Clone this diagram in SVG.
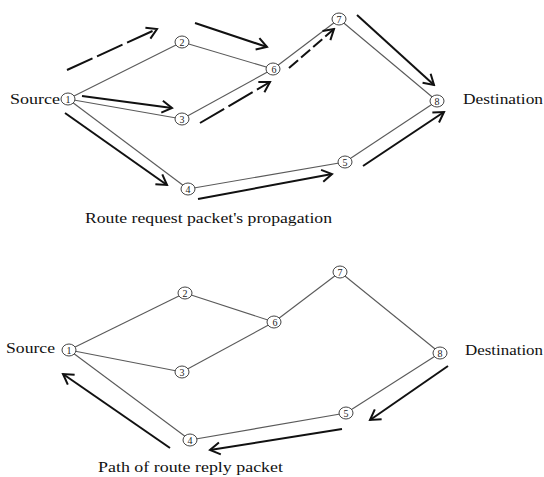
<svg xmlns="http://www.w3.org/2000/svg" width="544" height="477" viewBox="0 0 544 477">
<style>
.edge{stroke:#5a5a5a;stroke-width:1.1;fill:none}
.arr{stroke:#111;stroke-width:2;fill:none;marker-end:url(#head)}
.dash{stroke-dasharray:28 5}
.dash2{stroke-dasharray:12 4}
.node ellipse{fill:#fff;stroke:#444;stroke-width:1}
.num{font-family:"Liberation Serif",serif;font-size:10px;fill:#222;text-anchor:middle}
.lbl{font-family:"Liberation Serif",serif;font-size:15px;fill:#111}
</style>
<defs>
<marker id="head" viewBox="-12 -8 14 16" refX="0" refY="0" markerWidth="14" markerHeight="16" markerUnits="userSpaceOnUse" orient="auto">
<path d="M-10,-6 L0,0 L-10,6" fill="none" stroke="#111" stroke-width="2"/>
</marker>
</defs>
<rect width="544" height="477" fill="#fff"/>
<g id="connectors">
<line class="edge" x1="68" y1="99" x2="182" y2="42"/>
<line class="edge" x1="182" y1="42" x2="273" y2="69"/>
<line class="edge" x1="68" y1="99" x2="182" y2="119"/>
<line class="edge" x1="182" y1="119" x2="273" y2="69"/>
<line class="edge" x1="68" y1="99" x2="188" y2="189"/>
<line class="edge" x1="188" y1="189" x2="345" y2="162"/>
<line class="edge" x1="345" y1="162" x2="437" y2="101"/>
<line class="edge" x1="273" y1="69" x2="339" y2="19"/>
<line class="edge" x1="339" y1="19" x2="437" y2="101"/>
<line class="arr dash" x1="67" y1="70" x2="157" y2="29"/>
<line class="arr" x1="195" y1="23" x2="267" y2="47"/>
<line class="arr" x1="82" y1="96" x2="172" y2="108"/>
<line class="arr dash" x1="200" y1="123" x2="270" y2="82"/>
<line class="arr" x1="65" y1="113" x2="167" y2="185"/>
<line class="arr" x1="198" y1="199" x2="332" y2="174"/>
<line class="arr" x1="363" y1="166" x2="444" y2="112"/>
<line class="arr dash2" x1="289" y1="68" x2="334" y2="29"/>
<line class="arr" x1="357" y1="15" x2="434" y2="85"/>
<line class="edge" x1="69" y1="350" x2="185" y2="293"/>
<line class="edge" x1="185" y1="293" x2="274" y2="322"/>
<line class="edge" x1="69" y1="350" x2="182" y2="372"/>
<line class="edge" x1="182" y1="372" x2="274" y2="322"/>
<line class="edge" x1="69" y1="350" x2="190" y2="440"/>
<line class="edge" x1="190" y1="440" x2="346" y2="413"/>
<line class="edge" x1="346" y1="413" x2="440" y2="353"/>
<line class="edge" x1="274" y1="322" x2="340" y2="272"/>
<line class="edge" x1="340" y1="272" x2="440" y2="353"/>
<line class="arr" x1="448" y1="366" x2="370" y2="420"/>
<line class="arr" x1="342" y1="429" x2="210" y2="450"/>
<line class="arr" x1="170" y1="448" x2="63" y2="374"/>
</g>
<g id="top-n1" class="node"><ellipse cx="68" cy="99" rx="7" ry="6"/><text class="num" x="68" y="102.5">1</text></g>
<g id="top-n2" class="node"><ellipse cx="182" cy="42" rx="7" ry="6"/><text class="num" x="182" y="45.5">2</text></g>
<g id="top-n3" class="node"><ellipse cx="182" cy="119" rx="7" ry="6"/><text class="num" x="182" y="122.5">3</text></g>
<g id="top-n4" class="node"><ellipse cx="188" cy="189" rx="7" ry="6"/><text class="num" x="188" y="192.5">4</text></g>
<g id="top-n5" class="node"><ellipse cx="345" cy="162" rx="7" ry="6"/><text class="num" x="345" y="165.5">5</text></g>
<g id="top-n6" class="node"><ellipse cx="273" cy="69" rx="7" ry="6"/><text class="num" x="274" y="73">6</text></g>
<g id="top-n7" class="node"><ellipse cx="339" cy="19" rx="7" ry="6"/><text class="num" x="339" y="22.5">7</text></g>
<g id="top-n8" class="node"><ellipse cx="437" cy="101" rx="7" ry="6"/><text class="num" x="437" y="104.5">8</text></g>
<g id="top-source"><text class="lbl" x="10" y="104" textLength="50" lengthAdjust="spacingAndGlyphs">Source</text></g>
<g id="top-destination"><text class="lbl" x="463" y="104" textLength="80" lengthAdjust="spacingAndGlyphs">Destination</text></g>
<g id="top-caption"><text class="lbl" x="85" y="223" textLength="247" lengthAdjust="spacingAndGlyphs">Route request packet's propagation</text></g>
<g id="bot-n1" class="node"><ellipse cx="69" cy="350" rx="7" ry="6"/><text class="num" x="69" y="353.5">1</text></g>
<g id="bot-n2" class="node"><ellipse cx="185" cy="293" rx="7" ry="6"/><text class="num" x="185" y="296.5">2</text></g>
<g id="bot-n3" class="node"><ellipse cx="182" cy="372" rx="7" ry="6"/><text class="num" x="182" y="375.5">3</text></g>
<g id="bot-n4" class="node"><ellipse cx="190" cy="440" rx="7" ry="6"/><text class="num" x="190" y="443.5">4</text></g>
<g id="bot-n5" class="node"><ellipse cx="346" cy="413" rx="7" ry="6"/><text class="num" x="346" y="416.5">5</text></g>
<g id="bot-n6" class="node"><ellipse cx="274" cy="322" rx="7" ry="6"/><text class="num" x="275" y="326">6</text></g>
<g id="bot-n7" class="node"><ellipse cx="340" cy="272" rx="7" ry="6"/><text class="num" x="340" y="275.5">7</text></g>
<g id="bot-n8" class="node"><ellipse cx="440" cy="353" rx="7" ry="6"/><text class="num" x="440" y="356.5">8</text></g>
<g id="bot-source"><text class="lbl" x="6" y="353" textLength="49" lengthAdjust="spacingAndGlyphs">Source</text></g>
<g id="bot-destination"><text class="lbl" x="465" y="355" textLength="78" lengthAdjust="spacingAndGlyphs">Destination</text></g>
<g id="bot-caption"><text class="lbl" x="98" y="472" textLength="185" lengthAdjust="spacingAndGlyphs">Path of route reply packet</text></g>
</svg>
